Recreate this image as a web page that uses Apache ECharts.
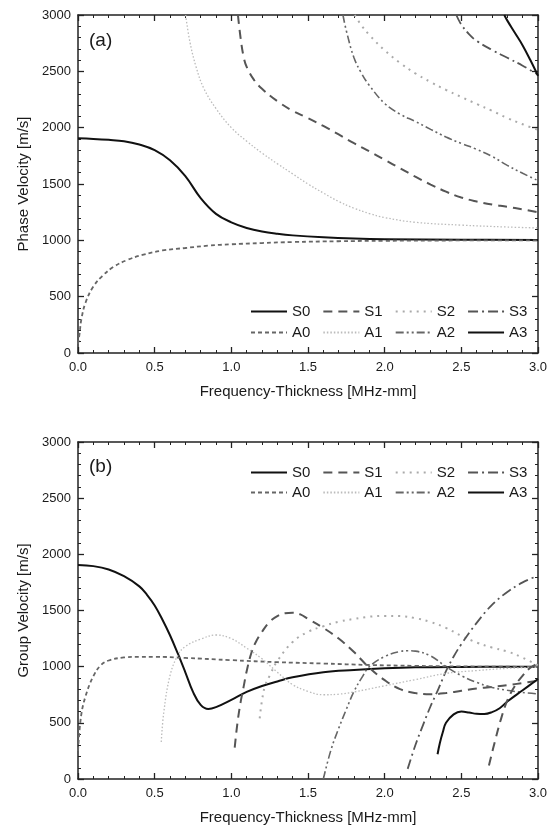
<!DOCTYPE html>
<html>
<head>
<meta charset="utf-8">
<script src="https://cdn.jsdelivr.net/npm/echarts@6/dist/echarts.min.js"></script>
<style>
  html, body { margin: 0; padding: 0; background: #fff; }
  #main { width: 558px; height: 830px; }
</style>
</head>
<body>
<div id="main"></div>
<script>
// mode names (legend order)
var rowS = ['S0', 'S1', 'S2', 'S3'];
var rowA = ['A0', 'A1', 'A2', 'A3'];

// (a) phase velocity, [fd, m/s]
var phaseS0 = [[0,1905],[0.1,1900],[0.2,1892],[0.3,1880],[0.4,1850],[0.5,1800],[0.6,1710],[0.7,1570],[0.8,1375],[0.9,1235],[1.0,1160],[1.1,1110],[1.2,1078],[1.3,1058],[1.4,1044],[1.6,1027],[1.8,1016],[2.0,1010],[2.5,1005],[3.0,1003]];
var phaseA0 = [[0,80],[0.01,170],[0.022,300],[0.05,450],[0.1,590],[0.16,685],[0.23,763],[0.32,825],[0.42,870],[0.55,910],[0.7,932],[0.85,953],[1.0,965],[1.2,976],[1.4,985],[1.7,992],[2.0,996],[2.5,999],[3.0,1000]];
var phaseA1 = [[0.702,3000],[0.73,2760],[0.77,2540],[0.82,2350],[0.9,2170],[1.0,2000],[1.1,1880],[1.2,1775],[1.3,1680],[1.4,1590],[1.5,1500],[1.6,1420],[1.7,1345],[1.8,1285],[1.9,1238],[2.0,1202],[2.2,1160],[2.5,1135],[2.8,1118],[3.0,1110]];
var phaseS1 = [[1.043,3000],[1.06,2800],[1.08,2630],[1.1,2540],[1.15,2420],[1.2,2345],[1.3,2235],[1.4,2150],[1.5,2085],[1.6,2015],[1.7,1940],[1.8,1862],[1.9,1790],[2.0,1715],[2.1,1640],[2.2,1565],[2.3,1495],[2.4,1432],[2.5,1380],[2.6,1345],[2.7,1318],[2.8,1298],[2.9,1275],[3.0,1250]];
var phaseA2 = [[1.728,3000],[1.75,2860],[1.8,2620],[1.85,2480],[1.9,2375],[2.0,2215],[2.1,2120],[2.2,2055],[2.3,1985],[2.4,1917],[2.5,1860],[2.6,1808],[2.7,1745],[2.8,1665],[2.9,1595],[3.0,1530]];
var phaseS2 = [[1.804,3000],[1.85,2905],[1.9,2823],[2.0,2686],[2.1,2575],[2.2,2482],[2.3,2405],[2.4,2335],[2.5,2272],[2.6,2210],[2.7,2150],[2.8,2085],[2.9,2030],[3.0,1980]];
var phaseS3 = [[2.467,3000],[2.5,2915],[2.55,2830],[2.6,2770],[2.7,2690],[2.8,2620],[2.9,2550],[3.0,2470]];
var phaseA3 = [[2.78,3000],[2.8,2950],[2.85,2840],[2.9,2730],[2.95,2600],[3.0,2460]];

// (b) group velocity, [fd, m/s]
var groupS0 = [[0,1905],[0.1,1895],[0.2,1865],[0.3,1805],[0.4,1715],[0.45,1640],[0.5,1545],[0.55,1420],[0.6,1280],[0.65,1120],[0.7,950],[0.75,775],[0.8,660],[0.85,623],[0.9,640],[1.0,705],[1.1,775],[1.2,828],[1.3,868],[1.4,905],[1.6,950],[1.8,970],[2.0,985],[2.2,994],[2.5,998],[3.0,1000]];
var groupA0 = [[0,250],[0.02,560],[0.05,740],[0.1,915],[0.15,1015],[0.2,1055],[0.3,1082],[0.4,1088],[0.5,1088],[0.7,1078],[1.0,1058],[1.3,1040],[1.6,1028],[1.9,1015],[2.2,1007],[2.5,1002],[3.0,998]];
var groupA1 = [[0.543,330],[0.56,600],[0.6,920],[0.65,1100],[0.7,1180],[0.8,1245],[0.9,1282],[1.0,1250],[1.1,1165],[1.2,1070],[1.3,950],[1.4,840],[1.5,780],[1.6,750],[1.7,755],[1.8,775],[2.0,830],[2.2,885],[2.4,940],[2.6,965],[2.8,985],[3.0,995]];
var groupS1 = [[1.022,280],[1.04,500],[1.06,680],[1.08,820],[1.1,960],[1.13,1120],[1.16,1220],[1.2,1310],[1.25,1400],[1.3,1450],[1.35,1475],[1.4,1480],[1.45,1465],[1.5,1425],[1.6,1345],[1.7,1250],[1.8,1130],[1.9,990],[2.0,880],[2.1,800],[2.2,765],[2.3,755],[2.4,765],[2.5,785],[2.6,805],[2.7,820],[2.8,835],[2.9,855],[3.0,875]];
var groupS2 = [[1.185,540],[1.2,700],[1.22,830],[1.25,920],[1.3,1050],[1.4,1220],[1.5,1310],[1.6,1360],[1.7,1400],[1.8,1425],[1.9,1445],[2.0,1452],[2.1,1450],[2.2,1432],[2.3,1398],[2.4,1345],[2.5,1275],[2.6,1215],[2.7,1170],[2.8,1135],[2.9,1080],[3.0,1010]];
var groupA2 = [[1.6,0],[1.65,260],[1.7,450],[1.75,620],[1.8,780],[1.85,900],[1.9,1000],[2.0,1090],[2.1,1135],[2.15,1142],[2.2,1138],[2.3,1095],[2.4,1000],[2.5,920],[2.6,860],[2.7,815],[2.8,790],[2.9,770],[3.0,758]];
var groupS3 = [[2.15,90],[2.2,300],[2.25,480],[2.3,650],[2.35,800],[2.4,960],[2.45,1090],[2.5,1200],[2.6,1390],[2.7,1550],[2.8,1665],[2.9,1750],[3.0,1810]];
var groupA3 = [[2.345,220],[2.36,320],[2.38,420],[2.4,500],[2.45,575],[2.5,600],[2.55,592],[2.6,580],[2.65,578],[2.7,595],[2.75,630],[2.8,690],[2.9,790],[3.0,890]];
var groupS4 = [[2.68,120],[2.72,340],[2.76,540],[2.8,700],[2.85,830],[2.9,920],[2.95,990],[3.0,1030]];

var FONT = 'Liberation Sans';

// line look for each mode
var styles = {
  S0: { color: '#111', width: 2, type: 'solid' },
  S1: { color: '#555', width: 2, type: [9, 6] },
  S2: { color: '#aaa', width: 2, type: [2, 5] },
  S3: { color: '#555', width: 1.8, type: [10, 4, 2, 4] },
  A0: { color: '#666', width: 1.8, type: [4, 3] },
  A1: { color: '#bbb', width: 1.3, type: [1.5, 2] },
  A2: { color: '#666', width: 1.6, type: [8, 3, 2, 3, 2, 3] },
  A3: { color: '#111', width: 2, type: 'solid' },
  S4: { color: '#555', width: 2, type: [9, 6] }
};

function mk(name, data, gi) {
  var st = styles[name];
  return {
    name: name, type: 'line', data: data,
    xAxisIndex: gi * 2, yAxisIndex: gi * 2,
    symbol: 'none', smooth: 0.4, clip: true,
    itemStyle: { color: st.color },
    lineStyle: { color: st.color, width: st.width, type: st.type }
  };
}

function xAxes(gi) {
  var base = {
    type: 'value', gridIndex: gi, min: 0, max: 3, interval: 0.5,
    axisLine: { show: true, onZero: false, lineStyle: { color: '#222', width: 1.5 } },
    axisTick: { inside: true, length: 6, lineStyle: { color: '#222', width: 1.3 } },
    minorTick: { show: true, splitNumber: 5, length: 3, lineStyle: { color: '#222', width: 1 } },
    splitLine: { show: false }
  };
  var bottom = echarts.util.merge({
    position: 'bottom',
    name: 'Frequency-Thickness [MHz-mm]', nameLocation: 'middle', nameGap: 31,
    nameTextStyle: { fontFamily: FONT, fontSize: 15, color: '#1a1a1a' },
    axisLabel: { fontFamily: FONT, fontSize: 13, color: '#1a1a1a', margin: 8,
      formatter: function (v) { return v.toFixed(1); } }
  }, base, true);
  var top = echarts.util.merge({ position: 'top', axisLabel: { show: false } }, base, true);
  return [bottom, top];
}

function yAxes(gi, title) {
  var base = {
    type: 'value', gridIndex: gi, min: 0, max: 3000, interval: 500,
    axisLine: { show: true, onZero: false, lineStyle: { color: '#222', width: 1.5 } },
    axisTick: { inside: true, length: 6, lineStyle: { color: '#222', width: 1.3 } },
    minorTick: { show: true, splitNumber: 5, length: 3, lineStyle: { color: '#222', width: 1 } },
    splitLine: { show: false }
  };
  var left = echarts.util.merge({
    position: 'left',
    name: title, nameLocation: 'middle', nameGap: 45,
    nameTextStyle: { fontFamily: FONT, fontSize: 15, color: '#1a1a1a' },
    axisLabel: { fontFamily: FONT, fontSize: 13, color: '#1a1a1a', margin: 7,
      formatter: function (v) { return String(v); } }
  }, base, true);
  var right = echarts.util.merge({ position: 'right', axisLabel: { show: false } }, base, true);
  return [left, right];
}

function legend(names, top) {
  return {
    data: names, left: 245, top: top, orient: 'horizontal',
    itemWidth: 36, itemHeight: 14, itemGap: 12,
    itemStyle: { color: 'transparent', borderColor: 'transparent', borderWidth: 0, opacity: 0 },
    textStyle: { fontFamily: FONT, fontSize: 15, color: '#1a1a1a' },
    selectedMode: false
  };
}

var series = [
  mk('S0', phaseS0, 0), mk('S1', phaseS1, 0), mk('S2', phaseS2, 0), mk('S3', phaseS3, 0),
  mk('A0', phaseA0, 0), mk('A1', phaseA1, 0), mk('A2', phaseA2, 0), mk('A3', phaseA3, 0),
  mk('S0', groupS0, 1), mk('S1', groupS1, 1), mk('S2', groupS2, 1), mk('S3', groupS3, 1),
  mk('A0', groupA0, 1), mk('A1', groupA1, 1), mk('A2', groupA2, 1), mk('A3', groupA3, 1),
  mk('S4', groupS4, 1)
];

var chart = echarts.init(document.getElementById('main'), null, { renderer: 'canvas' });
chart.setOption({
  animation: false,
  backgroundColor: '#fff',
  grid: [
    { left: 78, top: 15, width: 460, height: 338 },
    { left: 78, top: 442, width: 460, height: 337 }
  ],
  xAxis: xAxes(0).concat(xAxes(1)),
  yAxis: yAxes(0, 'Phase Velocity [m/s]').concat(yAxes(1, 'Group Velocity [m/s]')),
  legend: [legend(rowS, 299), legend(rowA, 320), legend(rowS, 460), legend(rowA, 480)],
  graphic: [
    { type: 'text', left: 89, top: 31, style: { text: '(a)', font: '19px "Liberation Sans"', fill: '#1a1a1a' } },
    { type: 'text', left: 89, top: 457, style: { text: '(b)', font: '19px "Liberation Sans"', fill: '#1a1a1a' } }
  ],
  series: series
});
</script>
</body>
</html>
